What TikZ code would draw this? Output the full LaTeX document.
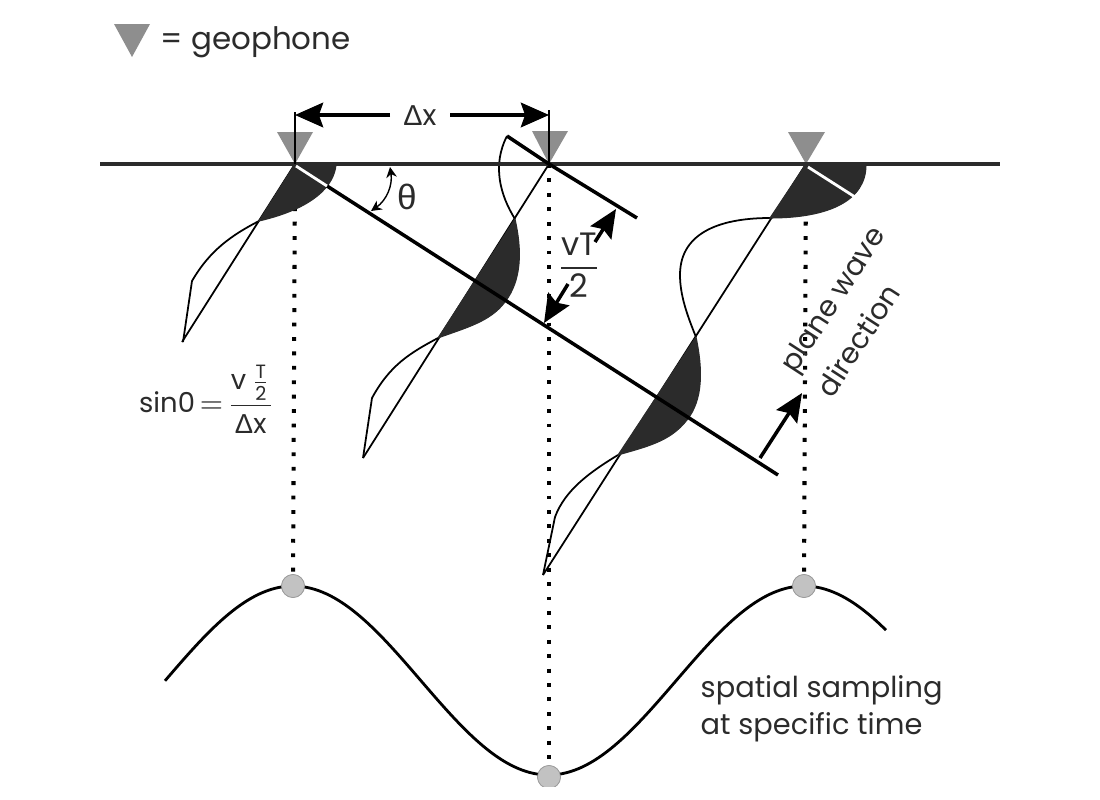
\documentclass[tikz,border=0pt]{standalone}
\usepackage{amsmath}
\usepackage{fontspec}
\setmainfont{Poppins}
\newfontfamily\greekfont{Liberation Sans}
\usetikzlibrary{arrows.meta}
\definecolor{inkdark}{HTML}{2b2b2b}
\definecolor{geogray}{HTML}{8e8e8e}
\definecolor{sampgray}{HTML}{c2c2c2}
\newcommand{\lobedark}[1]{\fill[inkdark, draw=inkdark, line width=0.3pt] #1;}
\newlength{\unitpx}
\setlength{\unitpx}{0.01cm}
\tikzset{
  ground/.style={line width=0.9pt, inkdark},
  front/.style={line width=1pt, black},
  trace/.style={line width=0.5pt, black},
  dotline/.style={line width=1.15pt, black, dash pattern=on 1.1pt off 3pt},
  dimarrow/.style={line width=1pt, black, -{Stealth[length=8pt, width=7pt, inset=1.2pt]}},
  geotri/.style={fill=geogray},
  sampdot/.style={circle, fill=sampgray, draw=sampgray!80!black, line width=0.2pt, minimum size=23\unitpx, inner sep=0pt},
  label/.style={inkdark, font=\fontsize{8.2}{10}\selectfont, inner sep=0pt}
}
\begin{document}
\begin{tikzpicture}[x=0.01cm, y=-0.01cm]
  \useasboundingbox (0,0) rectangle (1100,800);
  % Define points
  \coordinate (g1) at (295,164);
  \coordinate (g2) at (549,164);
  \coordinate (g3) at (806,164);
  \coordinate (g1top) at (295,112);
  \coordinate (g2top) at (549,110);
  \coordinate (left) at (100,164);
  \coordinate (right) at (1000,164);
  % Sampling curve and dots
  \node[sampdot] (s1) at (293,586) {};
  \node[sampdot] (s2) at (549,777) {};
  \node[sampdot] (s3) at (804,586) {};
  \draw[dotline] (g1) -- (s1);
  \draw[dotline] (g2) -- (s2);
  \draw[dotline] (g3) -- (s3);
  \draw[line width=0.8pt, black] plot[domain=165:886, samples=90, smooth] (\x,{680.5-94.5*cos((\x-293)/511*360)});
  \node[sampdot] at (s1) {};
  \node[sampdot] at (s2) {};
  \node[sampdot] at (s3) {};
  \fill[white] (520,787) rectangle (580,800);
  % Geophones
  \fill[geotri] (114,24) -- (150,24) -- (132,57) -- cycle;
  \fill[geotri] (277,132) -- (313,132) -- (g1) -- cycle;
  \fill[geotri] (532,131) -- (568,131) -- (g2) -- cycle;
  \fill[geotri] (788,132) -- (825,132) -- (g3) -- cycle;
  % Traces
  \draw[trace] (g1) -- (182,342);
  \draw[trace] (259,221) .. controls (232,235) and (210,250) .. (192,281) -- (183,342);
  \lobedark{(g1) -- (336,165) .. controls (334,185) and (315,208) .. (259,221) -- cycle}
  \draw[trace] (g2) -- (363,458);
  \draw[trace] (507,136) .. controls (492,165) and (500,195) .. (515,219);
  \lobedark{(515,219) .. controls (522,250) and (522,280) .. (505,302) .. controls (490,322) and (465,328) .. (438,338) -- cycle}
  \draw[trace] (438,338) .. controls (410,353) and (390,365) .. (372,398) -- (363,458);
  \draw[trace] (g3) -- (543,575);
  \draw[trace] (770,218) .. controls (725,218) and (680,230) .. (680,275) .. controls (680,295) and (687,315) .. (696,337);
  \lobedark{(g3) -- (866,165) .. controls (866,200) and (830,218) .. (770,218) -- cycle}
  \lobedark{(696,337) .. controls (703,370) and (703,400) .. (687,420) .. controls (670,442) and (645,447) .. (618,455) -- cycle}
  \draw[trace] (618,455) .. controls (590,472) and (565,490) .. (555,517) -- (543,575);
  % Surface and wavefronts
  \draw[ground] (left) -- (right);
  \draw[front] (507,136) -- (g2) -- (637,218);
  \draw[front] (327,186) -- (778,475);
  \draw[line width=0.8pt, white] (296,166) -- (327,186);
  \draw[line width=0.8pt, white] (808,167) -- (855,197);
  % Dimensions
  \draw[line width=0.4pt, black] (g1) -- (g1top);
  \draw[line width=0.4pt, black] (g2) -- (g2top);
  \coordinate (dxa) at (390,115);
  \coordinate (dxb) at (450,115);
  \coordinate (dxl) at (295,115);
  \coordinate (dxr) at (549,115);
  \draw[dimarrow] (dxa) -- (dxl);
  \draw[dimarrow] (dxb) -- (dxr);
  \coordinate (tha) at (390,167);
  \coordinate (thb) at (371,211);
  \draw[line width=0.4pt, black, {Stealth[length=3pt, width=3pt]}-{Stealth[length=3pt, width=3pt]}] (tha) to[bend left=32] (thb);
  \coordinate (vta) at (595,242);
  \coordinate (vtb) at (616,209);
  \coordinate (vtc) at (568,284);
  \coordinate (vtd) at (544,323);
  \draw[dimarrow] (vta) -- (vtb);
  \draw[dimarrow] (vtc) -- (vtd);
  \coordinate (pwa) at (760,458);
  \coordinate (pwb) at (802,393);
  \draw[dimarrow] (pwa) -- (pwb);
  % Labels
  \node[label, anchor=west, font=\fontsize{8.8}{10}\selectfont] (legend) at (160,42) {= geophone};
  \node[label] (dx) at (420,116) {{\greekfont Δ}x};
  \node[label, font=\fontsize{10}{10}\selectfont] (theta) at (407,197) {\greekfont θ};
  \node[label, font=\fontsize{9.2}{10}\selectfont] (vt) at (579,265) {$\dfrac{\text{vT}}{\text{2}}$};
  \node[label, font=\fontsize{7.8}{10}\selectfont] (sine) at (207,399) {sin0$\,=\!\dfrac{\text{v}\,\frac{\text{T}}{\text{2}}}{\text{{\greekfont Δ}x}}$};
  \node[label, rotate=57] (pw) at (835,301) {plane wave};
  \node[label, rotate=57] (dir) at (858,340) {direction};
  \node[label, anchor=west] (samp) at (700,690) {spatial sampling};
  \node[label, anchor=west] (time) at (700,727) {at specific time};
\end{tikzpicture}
\end{document}
